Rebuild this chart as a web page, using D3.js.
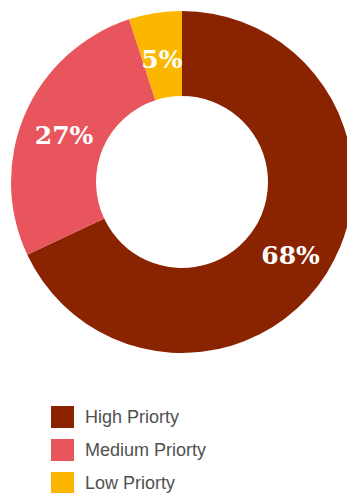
<!DOCTYPE html>
<html>
<head>
<meta charset="utf-8">
<script src="https://cdn.jsdelivr.net/npm/d3@7"></script>
<style>
  html, body { margin: 0; padding: 0; background: #fff; overflow: hidden; }
  svg { display: block; }
</style>
</head>
<body>
<svg id="chart" width="347" height="493"></svg>
<script>
// Task priority breakdown
const categories = ["High Priorty", "Medium Priorty", "Low Priorty"];
const shares = [68, 27, 5];
const colors = ["#8a2300", "#e8555d", "#fbb700"];

const width = 347, height = 493;
const cx = 182, cy = 182;
const outerR = 171, innerR = 86;

const svg = d3.select("#chart");

const pie = d3.pie().sort(null).value(d => d.value);
const arc = d3.arc().innerRadius(innerR).outerRadius(outerR);
const color = d3.scaleOrdinal().domain(categories).range(colors);

const data = categories.map((c, i) => ({ name: c, value: shares[i] }));
const arcs = pie(data);

const g = svg.append("g").attr("transform", `translate(${cx},${cy})`);

g.selectAll("path.slice")
  .data(arcs)
  .join("path")
  .attr("class", "slice")
  .attr("d", arc)
  .attr("fill", d => color(d.data.name));

g.selectAll("text.pct")
  .data(arcs)
  .join("text")
  .attr("class", "pct")
  .attr("transform", d => `translate(${arc.centroid(d)})`)
  .attr("text-anchor", "middle")
  .attr("dy", "0.52em")
  .attr("fill", "#fff")
  .style("font-family", "'DejaVu Serif', serif")
  .style("font-weight", "bold")
  .style("font-size", "25px")
  .text(d => d.data.value + "%");

// Legend
const legendY = d3.scalePoint().domain(categories).range([417, 483]);
const legend = svg.append("g")
  .selectAll("g")
  .data(categories)
  .join("g")
  .attr("transform", d => `translate(51,${legendY(d)})`);

legend.append("rect")
  .attr("x", 0)
  .attr("y", -11)
  .attr("width", 23)
  .attr("height", 22)
  .attr("fill", d => color(d));

legend.append("text")
  .attr("x", 34)
  .attr("y", 0)
  .attr("dy", "0.36em")
  .attr("fill", "#505050")
  .style("font-family", "'Liberation Sans', Arial, sans-serif")
  .style("font-size", "18px")
  .text(d => d);
</script>
</body>
</html>
